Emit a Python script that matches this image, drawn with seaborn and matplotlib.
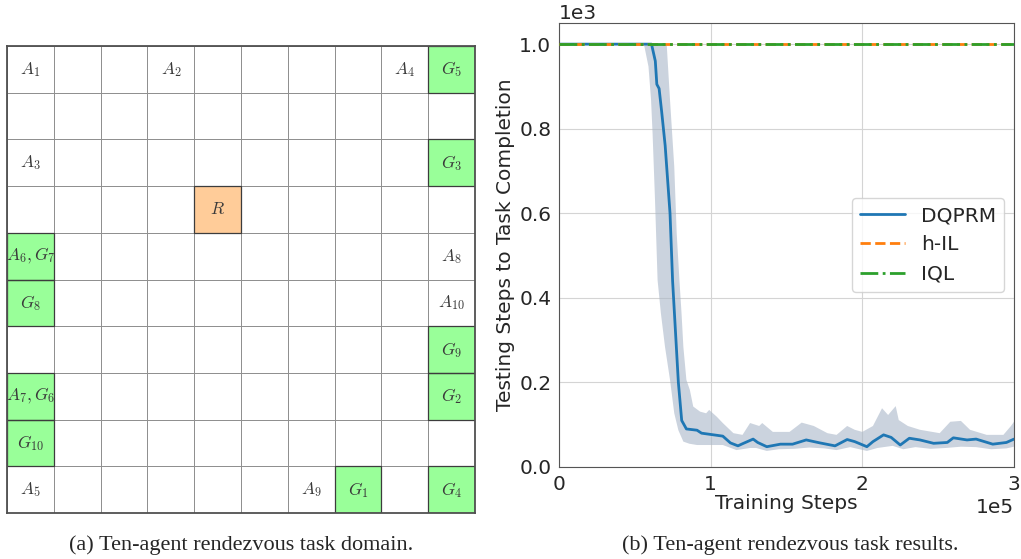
import numpy as np
import matplotlib
matplotlib.use("Agg")
import matplotlib.pyplot as plt
import seaborn as sns
from matplotlib.colors import ListedColormap
from matplotlib.patches import Rectangle

# ---------------- data ----------------
# grid domain (row, col), row 0 on top
n_rows, n_cols = 10, 10
agent_cells = [(0, 0, r"$A_1$"), (0, 3, r"$A_2$"), (0, 8, r"$A_4$"), (2, 0, r"$A_3$"),
               (4, 9, r"$A_8$"), (5, 9, r"$A_{10}$"), (9, 0, r"$A_5$"), (9, 6, r"$A_9$")]
goal_cells = [(0, 9, r"$G_5$"), (2, 9, r"$G_3$"), (4, 0, r"$A_6,G_7$"), (5, 0, r"$G_8$"),
              (6, 9, r"$G_9$"), (7, 0, r"$A_7,G_6$"), (7, 9, r"$G_2$"), (8, 0, r"$G_{10}$"),
              (9, 7, r"$G_1$"), (9, 9, r"$G_4$")]
rendezvous_cells = [(3, 4, r"$R$")]

# results (x in units of 1e5 training steps)
dq_x = [0, 0.61, 0.635, 0.645, 0.66, 0.677, 0.70, 0.732, 0.749, 0.787, 0.809, 0.84, 0.91,
        0.94, 1.0, 1.08, 1.13, 1.18, 1.21, 1.28, 1.31, 1.37, 1.46, 1.54, 1.63, 1.72, 1.82,
        1.90, 1.95, 2.03, 2.07, 2.14, 2.19, 2.25, 2.31, 2.38, 2.47, 2.56, 2.60, 2.69, 2.75,
        2.86, 2.95, 3.0]
dq_y = [1000, 1000, 960, 905, 895, 840, 760, 600, 440, 200, 110, 90, 87,
        80, 77, 73, 57, 50, 55, 66, 58, 48, 54, 54, 64, 57, 50,
        65, 60, 48, 60, 76, 70, 52, 68, 64, 56, 58, 69, 64, 66,
        54, 58, 66]

lo_x = [0, 0.56, 0.59, 0.607, 0.617, 0.633, 0.65, 0.672, 0.699, 0.732, 0.76, 0.787, 0.82,
        0.86, 0.91, 1.0, 1.08, 1.17, 1.26, 1.30, 1.37, 1.45, 1.55, 1.65, 1.75, 1.83, 1.92,
        2.03, 2.10, 2.20, 2.27, 2.35, 2.45, 2.55, 2.65, 2.75, 2.85, 2.95, 3.0]
lo_y = [1000, 1000, 947, 868, 789, 632, 442, 363, 284, 206, 127, 87, 60,
        55, 52, 52, 52, 40, 45, 45, 38, 42, 43, 46, 44, 40, 47,
        38, 45, 50, 42, 47, 43, 45, 48, 47, 42, 44, 48]

hi_x = [0, 0.71, 0.732, 0.76, 0.776, 0.794, 0.808, 0.82, 0.84, 0.863, 0.885, 0.93, 0.97,
        0.99, 1.04, 1.08, 1.15, 1.21, 1.26, 1.32, 1.34, 1.41, 1.52, 1.60, 1.68, 1.77, 1.83,
        1.90, 1.95, 2.0, 2.07, 2.13, 2.17, 2.22, 2.24, 2.30, 2.38, 2.51, 2.58, 2.65, 2.71,
        2.82, 2.93, 2.98, 3.0]
hi_y = [1000, 1000, 868, 710, 553, 442, 363, 284, 206, 182, 143, 131, 127,
        135, 119, 104, 80, 76, 104, 97, 104, 83, 83, 105, 97, 80, 76,
        97, 88, 83, 97, 139, 123, 144, 111, 97, 88, 80, 107, 109, 88,
        76, 76, 97, 107]

hil_x = [0, 3.0]
hil_y = [1000, 1000]
iql_x = [0, 3.0]
iql_y = [1000, 1000]

# ---------------- style ----------------
sns.set_style("whitegrid", {"axes.edgecolor": "#555555", "grid.color": "#d4d4d4"})
plt.rcParams["font.family"] = ["DejaVu Sans"]
plt.rcParams["mathtext.fontset"] = "cm"

fig = plt.figure(figsize=(10.21, 5.59), dpi=100)
ax1 = fig.add_axes([7 / 1021, 46 / 559, 468 / 1021, 467 / 559])
ax2 = fig.add_axes([559 / 1021, 92 / 559, 455 / 1021, 444 / 559])

# ---------------- (a) grid domain ----------------
kind = np.zeros((n_rows, n_cols))
text = np.full((n_rows, n_cols), "", dtype=object)
for r, c, t in agent_cells:
    text[r, c] = t
for r, c, t in goal_cells:
    kind[r, c] = 1
    text[r, c] = t
for r, c, t in rendezvous_cells:
    kind[r, c] = 2
    text[r, c] = t

sns.heatmap(kind, ax=ax1, cmap=ListedColormap(["white", "#99ff99", "#ffcc99"]),
            vmin=-0.5, vmax=2.5, cbar=False, linewidths=0.6, linecolor="#909090",
            annot=text, fmt="", annot_kws={"fontsize": 12.5, "color": "#3a3a3a"},
            xticklabels=False, yticklabels=False)
ax1.grid(False)
for r, c, t in goal_cells + rendezvous_cells:
    ax1.add_patch(Rectangle((c, r), 1, 1, fill=False, edgecolor="#3c3c3c", lw=0.9))
for s in ax1.spines.values():
    s.set_visible(True)
    s.set_color("#505050")
    s.set_linewidth(1.3)

# ---------------- (b) results ----------------
scale = 1e5
band_x = np.concatenate([np.array(lo_x), np.array(hi_x)[::-1]]) * scale
band_y = np.concatenate([np.array(lo_y), np.array(hi_y)[::-1]])
ax2.fill(band_x, band_y, color="#a9b6c8", alpha=0.6, lw=0, zorder=1)

sns.lineplot(x=np.array(dq_x) * scale, y=dq_y, ax=ax2, color="#1f77b4", lw=2,
             label="DQPRM", zorder=2)
sns.lineplot(x=np.array(hil_x) * scale, y=hil_y, ax=ax2, color="#ff7f0e", lw=2,
             linestyle="--", label="h-IL", zorder=3)
sns.lineplot(x=np.array(iql_x) * scale, y=iql_y, ax=ax2, color="#2ca02c", lw=2,
             linestyle="-.", label="IQL", zorder=4)

ax2.set_xlim(0, 3e5)
ax2.set_ylim(0, 1050)
ax2.set_xticks([0, 1e5, 2e5, 3e5])
ax2.set_yticks([0, 200, 400, 600, 800, 1000])
ax2.ticklabel_format(style="sci", axis="both", scilimits=(0, 0))
ax2.tick_params(labelsize=14.5, pad=2)
ax2.xaxis.get_offset_text().set_fontsize(14.5)
ax2.yaxis.get_offset_text().set_fontsize(14.5)
ax2.set_xlabel("Training Steps", fontsize=14.5, labelpad=0)
ax2.set_ylabel("Testing Steps to Task Completion", fontsize=14.5, labelpad=3)
ax2.legend(loc="center right", fontsize=14.5, handlelength=2.2)

# captions
fig.text(241 / 1021, 1 - 545 / 559, "(a) Ten-agent rendezvous task domain.",
         ha="center", va="center", fontsize=16, family=["Liberation Serif"])
fig.text(790 / 1021, 1 - 545 / 559, "(b) Ten-agent rendezvous task results.",
         ha="center", va="center", fontsize=16, family=["Liberation Serif"])

fig.savefig("out.png", dpi=100)
